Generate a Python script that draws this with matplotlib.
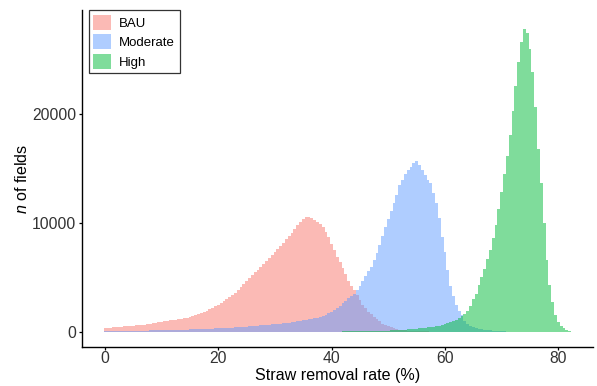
import numpy as np
import matplotlib.pyplot as plt
from matplotlib.patches import Patch

plt.rcParams['font.family'] = ['Liberation Sans', 'DejaVu Sans']
plt.rcParams['mathtext.fontset'] = 'custom'
plt.rcParams['mathtext.it'] = 'Liberation Sans:italic'
plt.rcParams['mathtext.rm'] = 'Liberation Sans'

# histogram counts, bins of 0.5 % starting at the given rate
bin_width = 0.5

bau_start = 0.0
bau = [330, 350, 380, 400, 420, 440, 460, 480, 500, 520,
       550, 575, 600, 630, 660, 690, 730, 770, 820, 870,
       920, 960, 1000, 1040, 1080, 1120, 1170, 1210, 1250, 1300,
       1350, 1420, 1500, 1600, 1700, 1820, 1950, 2070, 2200, 2350,
       2500, 2650, 2800, 2970, 3150, 3350, 3550, 3820, 4100, 4400,
       4700, 4950, 5200, 5450, 5700, 5970, 6250, 6520, 6800, 7050,
       7300, 7600, 7900, 8200, 8500, 8800, 9100, 9450, 9800, 10100,
       10400, 10600, 10600, 10500, 10300, 10100, 9900, 9600, 9200, 8700,
       8100, 7500, 6900, 6400, 5900, 5300, 4700, 4250, 3800, 3350,
       2900, 2500, 2150, 1850, 1600, 1350, 1150, 950, 750, 620,
       500, 400, 320, 250, 200, 160, 130, 100, 80, 65,
       50, 40, 30, 25, 20, 15, 12, 10, 8, 6, 5]

mod_start = 0.0
moderate = [60, 62, 65, 67, 70, 72, 75, 77, 80, 85,
            90, 92, 95, 97, 100, 105, 110, 115, 120, 125,
            130, 137, 145, 152, 160, 167, 175, 182, 190, 197,
            205, 212, 220, 230, 240, 250, 260, 270, 280, 295,
            310, 325, 340, 355, 370, 385, 400, 415, 430, 450,
            470, 490, 510, 530, 550, 570, 590, 615, 640, 665,
            690, 715, 740, 770, 800, 840, 880, 920, 960, 1010,
            1060, 1100, 1150, 1200, 1250, 1300, 1350, 1450, 1550, 1700,
            1850, 2000, 2200, 2400, 2600, 2800, 3100, 3300, 3500, 3850,
            4200, 4700, 5150, 5550, 5950, 6600, 7250, 7950, 8850, 9600,
            10400, 11100, 11800, 12600, 13500, 14000, 14500, 14900, 15200, 15500,
            15700, 15300, 14900, 14400, 14000, 13700, 12800, 11800, 10500, 8700,
            7300, 5700, 4200, 3300, 2500, 1900, 1500, 1000, 700, 500,
            400, 320, 260, 210, 170, 140, 110, 80, 60, 40, 30, 20, 10]

high_start = 40.0
high = [10, 12, 15, 17, 20, 22, 25, 27, 30, 32,
        35, 37, 40, 45, 50, 55, 60, 70, 80, 90,
        100, 110, 120, 135, 150, 170, 190, 210, 230, 255,
        280, 305, 330, 360, 390, 425, 460, 500, 550, 620,
        700, 780, 880, 980, 1100, 1250, 1420, 1650, 1950, 2400,
        3000, 3500, 4300, 5000, 5800, 6700, 7500, 8600, 9800, 11300,
        12900, 14500, 16200, 18100, 20300, 22600, 24800, 26700, 27900, 27500,
        26000, 23900, 20700, 16800, 13700, 10000, 6600, 4300, 2700, 1500,
        900, 550, 300, 150, 50]

labels = ['BAU', 'Moderate', 'High']
colors = ['#F8766D', '#619CFF', '#00BA38']
series = [(bau_start, bau), (mod_start, moderate), (high_start, high)]

fig = plt.figure(figsize=(5.97, 3.86), dpi=100)
ax = fig.add_axes([0.137, 0.101, 0.856, 0.873])

# filled stairs so adjacent bins don't leave hairline gaps
for (start, counts), c in zip(series, colors):
    edges = start - bin_width / 2 + bin_width * np.arange(len(counts) + 1)
    ax.stairs(counts, edges, fill=True, color=c, alpha=0.5, linewidth=0)

ax.set_xlim(-4.1, 86.1)
ax.set_ylim(-1410, 29600)
ax.set_xticks([0, 20, 40, 60, 80])
ax.set_yticks([0, 10000, 20000])

for s in ['top', 'right']:
    ax.spines[s].set_visible(False)
for s in ['left', 'bottom']:
    ax.spines[s].set_linewidth(1.0)
ax.tick_params(length=2.5, width=0.9, labelsize=11.3, colors='black', labelcolor='#333333')
ax.tick_params(axis='x', pad=0.5)
ax.tick_params(axis='y', pad=1.5)

ax.set_xlabel('Straw removal rate (%)', fontsize=11.6, labelpad=1)
ax.set_ylabel(r'$\mathit{n}$ of fields', fontsize=11.6, labelpad=1.5)

handles = [Patch(facecolor=c, alpha=0.5, linewidth=0) for c in colors]
leg = ax.legend(handles, labels, loc='upper left', bbox_to_anchor=(0.0137, 1.0),
                fontsize=9.5, frameon=True, fancybox=False, edgecolor='black',
                handlelength=1.36, handleheight=1.36, handletextpad=0.6,
                labelspacing=0.35, borderpad=0.35, borderaxespad=0.0)
leg.get_frame().set_linewidth(0.9)

fig.savefig('out.png', dpi=100)
